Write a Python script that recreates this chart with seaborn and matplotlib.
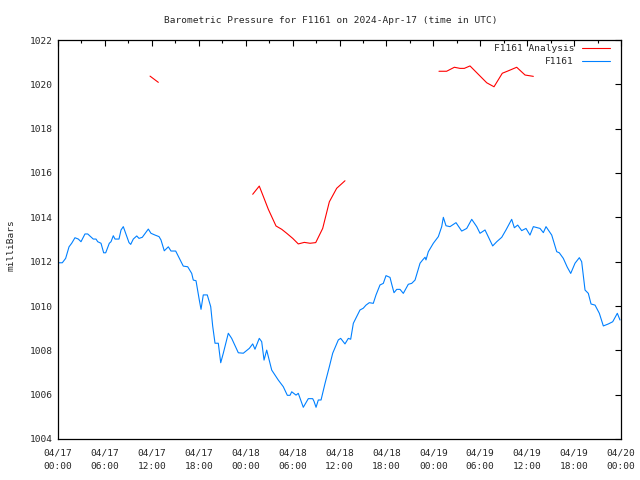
import numpy as np
import pandas as pd
import matplotlib
matplotlib.use("Agg")
import matplotlib.pyplot as plt
from matplotlib.lines import Line2D
from matplotlib.ticker import MultipleLocator
import seaborn as sns

# ---- data (hours since 2024-04-17 00:00 UTC, pressure in mbar) ----
obs_hours = [0.13, 0.55, 0.98, 1.41, 1.75, 2.17, 2.60, 2.94, 3.45, 3.80, 4.51, 4.86, 5.08, 5.50,
             5.84, 6.10, 6.56, 6.78, 7.07, 7.29, 7.80, 8.06, 8.35, 8.66, 9.08, 9.30, 9.63, 10.07,
             10.36, 10.78, 11.55, 11.89, 12.41, 12.92, 13.17, 13.59, 14.11, 14.45, 15.05, 16.02,
             16.59, 17.10, 17.30, 17.65, 18.07, 18.29, 18.58, 19.09, 19.53, 19.78, 20.08, 20.50,
             20.81, 21.14, 21.78, 22.21, 23.06, 23.70, 24.47, 24.90, 25.19, 25.74, 26.05, 26.35,
             26.69, 27.33, 28.17, 28.81, 29.33, 29.67, 29.89, 30.44, 30.73, 31.37, 32.01, 32.57,
             32.74, 33.00, 33.29, 33.64, 34.15, 34.70, 35.13, 35.85, 36.15, 36.70, 37.13, 37.43,
             37.77, 38.62, 39.04, 39.39, 39.81, 40.32, 40.67, 41.18, 41.60, 41.95, 42.46, 42.68,
             42.97, 43.32, 43.74, 44.16, 44.80, 45.23, 45.66, 46.30, 46.64, 46.94, 47.06, 47.36,
             48.00, 48.64, 49.07, 49.28, 49.62, 50.13, 50.90, 51.63, 52.27, 52.91, 53.55, 53.97,
             54.61, 55.59, 56.11, 56.75, 57.29, 58.02, 58.36, 58.79, 59.30, 59.85, 60.36, 60.79,
             61.64, 62.07, 62.41, 63.14, 63.78, 64.11, 64.62, 65.13, 65.57, 66.12, 66.67, 66.97,
             67.40, 67.82, 68.17, 68.68, 69.23, 69.74, 70.38, 70.94, 71.53, 71.87]
obs_pressure = [1011.95, 1011.95, 1012.15, 1012.67, 1012.83, 1013.08, 1013.02, 1012.90, 1013.25,
                1013.25, 1013.02, 1013.02, 1012.90, 1012.83, 1012.40, 1012.40, 1012.83, 1012.90,
                1013.17, 1013.02, 1013.02, 1013.43, 1013.58, 1013.28, 1012.86, 1012.78, 1013.02,
                1013.16, 1013.05, 1013.10, 1013.47, 1013.28, 1013.20, 1013.13, 1012.98, 1012.49,
                1012.67, 1012.48, 1012.48, 1011.80, 1011.77, 1011.47, 1011.17, 1011.14, 1010.27,
                1009.85, 1010.50, 1010.50, 1009.97, 1009.10, 1008.32, 1008.32, 1007.44, 1007.87,
                1008.77, 1008.54, 1007.89, 1007.87, 1008.09, 1008.29, 1008.05, 1008.54, 1008.39,
                1007.56, 1008.01, 1007.11, 1006.66, 1006.36, 1005.97, 1005.97, 1006.13, 1005.98,
                1006.06, 1005.43, 1005.82, 1005.82, 1005.70, 1005.43, 1005.76, 1005.76, 1006.51,
                1007.26, 1007.87, 1008.47, 1008.54, 1008.29, 1008.54, 1008.50, 1009.22, 1009.82,
                1009.90, 1010.04, 1010.15, 1010.12, 1010.50, 1010.95, 1011.02, 1011.37, 1011.29,
                1010.98, 1010.60, 1010.75, 1010.75, 1010.57, 1010.98, 1011.02, 1011.17, 1011.93,
                1012.08, 1012.20, 1012.08, 1012.45, 1012.83, 1013.13, 1013.58, 1014.00, 1013.62,
                1013.58, 1013.76, 1013.38, 1013.50, 1013.91, 1013.58, 1013.28, 1013.43, 1012.71,
                1012.90, 1013.10, 1013.43, 1013.91, 1013.53, 1013.65, 1013.40, 1013.50, 1013.20,
                1013.58, 1013.50, 1013.31, 1013.58, 1013.20, 1012.45, 1012.40, 1012.15, 1011.75,
                1011.47, 1011.93, 1012.18, 1012.00, 1010.72, 1010.57, 1010.09, 1010.04, 1009.67,
                1009.10, 1009.19, 1009.29, 1009.67, 1009.37]

ana_hours = [11.77, 12.83,
             24.90, 25.74, 26.35, 26.90, 27.88, 28.61, 29.25, 30.02, 30.73, 31.50, 32.23, 32.96,
             33.85, 34.70, 35.64, 36.70,
             48.72, 49.70, 50.69, 51.41, 51.96, 52.69, 54.83, 55.76, 56.82, 57.59, 58.66, 59.73,
             60.79]
ana_pressure = [1020.37, 1020.09,
                1015.04, 1015.41, 1014.86, 1014.36, 1013.61, 1013.46, 1013.28, 1013.05, 1012.80,
                1012.87, 1012.83, 1012.86, 1013.50, 1014.70, 1015.31, 1015.65,
                1020.59, 1020.59, 1020.77, 1020.72, 1020.72, 1020.83, 1020.07, 1019.89, 1020.50,
                1020.61, 1020.77, 1020.42, 1020.36]
ana_segment = [0] * 2 + [1] * 16 + [2] * 13

xtick_hours = [0, 6, 12, 18, 24, 30, 36, 42, 48, 54, 60, 66, 72]
xtick_labels = ["04/17\n00:00", "04/17\n06:00", "04/17\n12:00", "04/17\n18:00",
                "04/18\n00:00", "04/18\n06:00", "04/18\n12:00", "04/18\n18:00",
                "04/19\n00:00", "04/19\n06:00", "04/19\n12:00", "04/19\n18:00",
                "04/20\n00:00"]
ytick_values = [1004, 1006, 1008, 1010, 1012, 1014, 1016, 1018, 1020, 1022]

title = "Barometric Pressure for F1161 on 2024-Apr-17 (time in UTC)"
ylabel = "milliBars"
label_ana = "F1161 Analysis"
label_obs = "F1161"

RED = "#ff0000"
BLUE = "#0080ff"

# ---- plot ----
sns.set_style("white")
plt.rcParams["font.family"] = ["DejaVu Sans Mono"]
FS = 6.8
LW = 0.8

df_obs = pd.DataFrame({"h": obs_hours, "p": obs_pressure})
df_ana = pd.DataFrame({"h": ana_hours, "p": ana_pressure, "seg": ana_segment})

fig = plt.figure(figsize=(6.4, 4.8), dpi=100)
ax = fig.add_axes([58 / 640, 1 - 439 / 480, (621 - 58) / 640, (439 - 40) / 480])

sns.lineplot(data=df_ana, x="h", y="p", units="seg", estimator=None, sort=False,
             color=RED, linewidth=LW, ax=ax, legend=False)
sns.lineplot(data=df_obs, x="h", y="p", estimator=None, sort=False,
             color=BLUE, linewidth=LW, ax=ax, legend=False)

ax.set_xlim(0, 72)
ax.set_ylim(1004, 1022)
ax.set_xticks(xtick_hours)
ax.set_xticklabels(xtick_labels, fontsize=FS, linespacing=1.55)
ax.xaxis.set_minor_locator(MultipleLocator(3))
ax.set_yticks(ytick_values)
ax.set_yticklabels([str(v) for v in ytick_values], fontsize=FS)
ax.tick_params(axis="both", which="both", direction="in", top=True, right=True,
               width=0.8, color="black")
ax.tick_params(axis="both", which="major", length=4.5)
ax.tick_params(axis="x", which="major", pad=7)
ax.tick_params(axis="y", which="major", pad=4)
ax.tick_params(axis="x", which="minor", length=2.5)
ax.set_xlabel("")
ax.set_ylabel(ylabel, fontsize=FS, labelpad=10)
ax.yaxis.set_label_coords(-0.076, 0.487)
ax.set_title(title, fontsize=FS, pad=12, x=0.485)
for s in ax.spines.values():
    s.set_visible(True)
    s.set_color("black")
    s.set_linewidth(0.9)
ax.grid(False)

handles = [Line2D([], [], color=RED, linewidth=LW), Line2D([], [], color=BLUE, linewidth=LW)]
ax.legend(handles, [label_ana, label_obs], loc="upper right", frameon=False,
          markerfirst=False, fontsize=FS, handlelength=3.0, handletextpad=0.8,
          labelspacing=0.42, borderpad=0, borderaxespad=0,
          bbox_to_anchor=(1 - 11 / 563, 1 - 4 / 399))

fig.savefig("out.png", dpi=100)
